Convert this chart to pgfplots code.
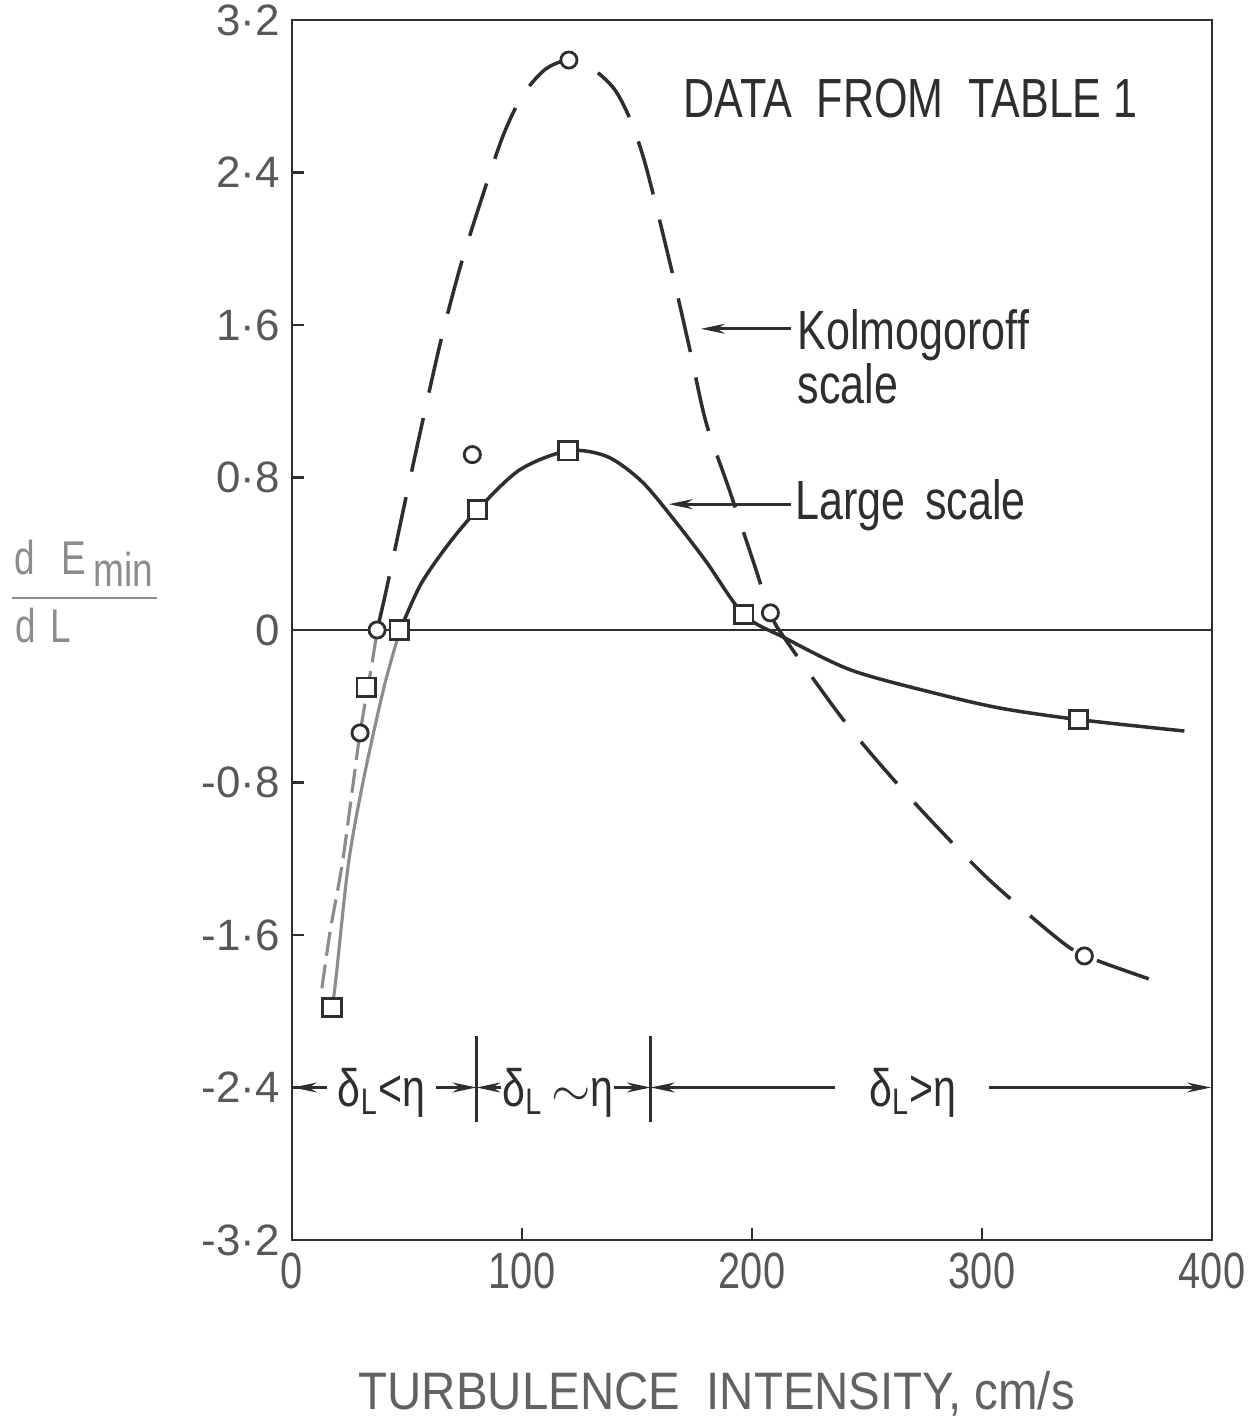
\documentclass[border=0pt]{standalone}
\usepackage{fontspec}
\setmainfont{Liberation Sans}
\newfontfamily\cond{Liberation Sans}[FakeStretch=0.78]
\newfontfamily\condx{Liberation Sans}[FakeStretch=0.9]
\usepackage{pgfplots}
\pgfplotsset{compat=1.18}
\usetikzlibrary{arrows.meta}
\definecolor{ink}{gray}{0.18}
\definecolor{faint}{gray}{0.55}

\begin{document}
\begin{tikzpicture}[x=0.1mm,y=0.1mm]
\useasboundingbox (0,0) rectangle (1254,1426);
\begin{axis}[at={(29.2mm,18.6mm)}, anchor=south west, scale only axis,
  width=92mm, height=122mm,
  xmin=0, xmax=400, ymin=-3.2, ymax=3.2,
  xtick={0,100,200,300,400}, xticklabels={0,100,200,300,400},
  ytick={-3.2,-2.4,-1.6,-0.8,0,0.8,1.6,2.4,3.2},
  yticklabels={-3·2,-2·4,-1·6,-0·8,0,0·8,1·6,2·4,3·2},
  xtick pos=bottom, ytick pos=left, tick align=inside, major tick length=1.2mm,
  tick style={ink, line width=0.8pt},
  axis line style={ink, line width=0.8pt},
  xticklabel style={font=\fontsize{14.5}{15}\selectfont\cond, text=ink!80},
  yticklabel style={font=\fontsize{12.5}{13}\selectfont, text=ink!80},
  clip=false]

% zero line
\addplot[ink, line width=0.8pt] coordinates {(0,0) (400,0)};

% large scale, solid
\addplot[faint, line width=0.9pt, smooth] coordinates {
  (17.4,-1.98) (19,-1.84) (24.5,-1.23) (31,-0.79) (40,-0.30) (47,0)};
\addplot[ink, line width=1pt, smooth] coordinates {
  (47,0) (56,0.24) (68,0.45) (80.6,0.63) (99,0.84) (120,0.94) (137,0.91) (152,0.78)
  (166,0.58) (180,0.36) (196.5,0.08) (214,-0.04) (243,-0.21) (279,-0.33)
  (308,-0.41) (342,-0.47) (388,-0.53)};

% kolmogoroff scale, dashed
\addplot[faint, line width=0.9pt, smooth, dash pattern=on 2.4mm off 0.9mm] coordinates {
  (13,-1.88) (16.6,-1.58) (21.8,-1.23) (26,-0.86) (29.6,-0.54) (35,-0.16) (37,0)};
\addplot[ink, line width=1pt, smooth, dash pattern=on 5.5mm off 2.6mm] coordinates {
  (37,0) (41,0.21) (50,0.72) (60,1.27) (66,1.58) (74,1.94) (84,2.32) (92,2.6)
  (100,2.8) (110,2.94) (120.4,2.99) (130,2.95) (140,2.84) (147,2.68) (153,2.47)
  (159,2.19) (166,1.84) (173,1.47) (180,1.09) (190,0.74) (200,0.38) (208,0.09)
  (214,-0.04) (239,-0.46) (259,-0.75) (281,-1.04) (304,-1.32) (333,-1.62)
  (345,-1.71) (372.5,-1.83)};

% data points
\addplot[only marks, mark=*, mark size=2.3pt, mark options={fill=white, draw=ink, line width=0.8pt}]
  coordinates {(29.6,-0.54) (37,0) (78.4,0.92) (120.4,2.99) (208,0.09) (344.5,-1.71)};
\addplot[only marks, mark=square*, mark size=2.6pt, mark options={fill=white, draw=ink, line width=0.8pt}]
  coordinates {(17.4,-1.98) (32.2,-0.30) (46.6,0) (80.6,0.63) (120,0.94) (196.5,0.08) (342,-0.47)};

% label pointers
\draw[ink, line width=0.8pt, -{Stealth[length=2.4mm,width=1mm]}] (217,1.58) -- (177.8,1.58);
\draw[ink, line width=0.8pt, -{Stealth[length=2.4mm,width=1mm]}] (217,0.66) -- (163.8,0.66);

% regimes
\begin{scope}[ink, line width=0.8pt]
\draw[-{Stealth[length=2.4mm,width=1mm]}] (15,-2.4) -- (0.4,-2.4);
\draw[-{Stealth[length=2.4mm,width=1mm]}] (62.5,-2.4) -- (80.2,-2.4);
\draw (80.2,-2.13) -- (80.2,-2.58);
\draw[-{Stealth[length=2.4mm,width=1mm]}] (91,-2.4) -- (80.2,-2.4);
\draw[-{Stealth[length=2.4mm,width=1mm]}] (140,-2.4) -- (156,-2.4);
\draw (156,-2.13) -- (156,-2.58);
\draw[-{Stealth[length=2.4mm,width=1mm]}] (236,-2.4) -- (156,-2.4);
\draw[-{Stealth[length=2.4mm,width=1mm]}] (303,-2.4) -- (399.6,-2.4);
\end{scope}
\begin{scope}[font=\fontsize{15}{16}\selectfont\cond, text=ink]
\node[anchor=base] at (39,-2.5) {δ\textsubscript{L}<η};
\node[anchor=base] at (115.7,-2.5) {δ\textsubscript{L}$\,\sim$η};
\node[anchor=base] at (270,-2.5) {δ\textsubscript{L}>η};
\end{scope}
\end{axis}

\begin{scope}[font=\fontsize{15.7}{16}\selectfont\cond, text=ink]
\node[anchor=base west, inner sep=0] at (683,1308) {DATA\hspace{0.45em}FROM\hspace{0.45em}TABLE 1};
\node[anchor=base west, inner sep=0] at (797,1076) {Kolmogoroff};
\node[anchor=base west, inner sep=0] at (797,1022) {scale};
\node[anchor=base west, inner sep=0] at (795,906) {Large\hspace{0.35em}scale};
\end{scope}
\node[anchor=base west, inner sep=0, font=\fontsize{15}{16}\selectfont\condx, text=ink!75]
  at (358,16) {TURBULENCE\hspace{0.5em}INTENSITY, cm/s};

% y label
\begin{scope}[font=\fontsize{13.5}{14}\selectfont\cond, text=faint]
\node[anchor=base west, inner sep=0] at (14,851) {d\hspace{0.55em}E\hspace{0.15em}\raisebox{-0.25em}{min}};
\draw[faint, line width=0.8pt] (12,828) -- (157,828);
\node[anchor=base west, inner sep=0] at (15,783) {d\hspace{0.3em}L};
\end{scope}
\end{tikzpicture}
\end{document}
